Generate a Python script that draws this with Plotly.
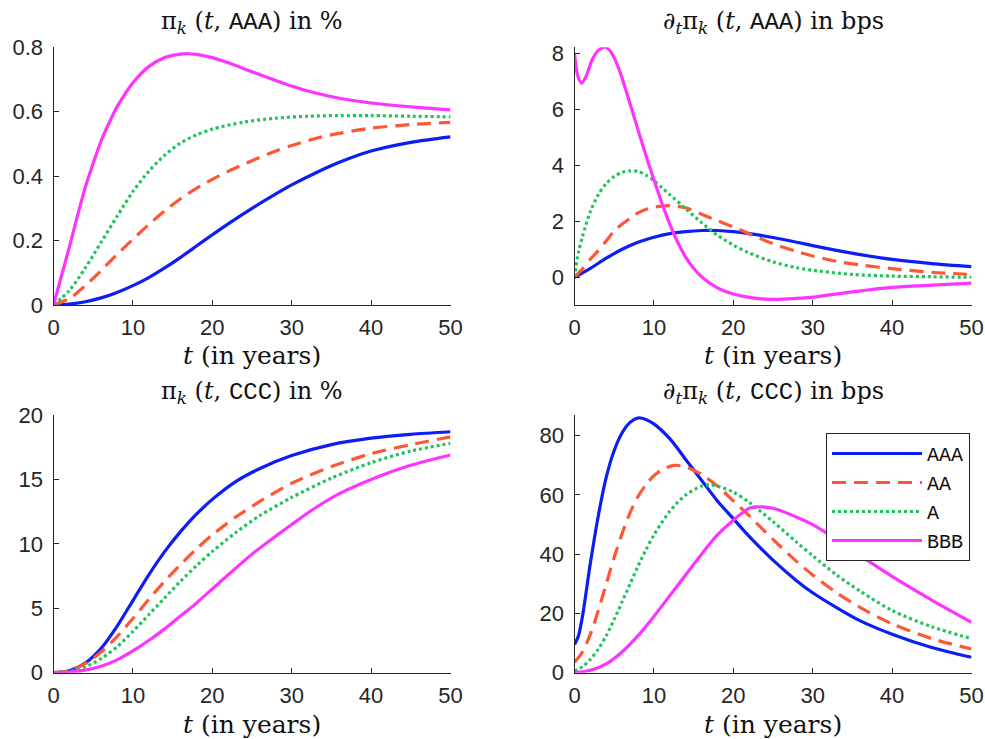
import plotly.graph_objects as go

# ---------------- data ----------------
series_names = ["AAA", "AA", "A", "BBB"]

# panel 1: pi_k(t, AAA) in %
p1_t_aaa = [0, 2, 4, 6, 8, 10, 12, 14, 16, 18, 20, 22, 25, 28, 30, 33, 36, 40, 45, 50]
p1_aaa = [0, 0.003, 0.01, 0.022, 0.039, 0.06, 0.085, 0.115, 0.148, 0.183, 0.218, 0.252, 0.3, 0.345, 0.373, 0.41, 0.443, 0.478, 0.505, 0.522]
p1_t_aa = [0, 2, 4, 6, 8, 10, 12, 14, 16, 18, 20, 22, 25, 28, 30, 33, 36, 40, 45, 50]
p1_aa = [0, 0.02, 0.06, 0.107, 0.157, 0.204, 0.25, 0.292, 0.33, 0.362, 0.39, 0.415, 0.448, 0.478, 0.495, 0.517, 0.533, 0.549, 0.56, 0.567]
p1_t_a = [0, 2, 4, 6, 8, 10, 12, 14, 16, 18, 20, 24, 28, 32, 36, 40, 45, 50]
p1_a = [0, 0.045, 0.115, 0.195, 0.275, 0.352, 0.415, 0.465, 0.503, 0.528, 0.546, 0.568, 0.58, 0.586, 0.588, 0.588, 0.586, 0.584]
p1_t_bbb = [0, 1, 2, 3, 4, 5, 6, 7, 8, 9, 10, 12, 14, 16, 17, 18, 20, 22, 25, 28, 30, 33, 36, 40, 45, 50]
p1_bbb = [0, 0.09, 0.18, 0.275, 0.365, 0.44, 0.51, 0.565, 0.615, 0.655, 0.69, 0.74, 0.768, 0.779, 0.78, 0.778, 0.768, 0.752, 0.724, 0.697, 0.68, 0.658, 0.642, 0.627, 0.615, 0.606]

# panel 2: d/dt pi_k(t, AAA) in bps
p2_t_aaa = [0, 2, 4, 6, 8, 10, 12, 14, 16, 18, 20, 22, 25, 28, 30, 33, 36, 40, 45, 50]
p2_aaa = [0, 0.32, 0.68, 1.0, 1.25, 1.43, 1.56, 1.63, 1.67, 1.67, 1.63, 1.56, 1.42, 1.25, 1.13, 0.96, 0.81, 0.64, 0.49, 0.38]
p2_t_aa = [0, 1, 2, 3, 4, 5, 6, 7, 8, 9, 10, 12, 14, 16, 18, 20, 22, 25, 28, 30, 33, 36, 40, 45, 50]
p2_aa = [0, 0.3, 0.65, 0.95, 1.3, 1.65, 1.9, 2.1, 2.3, 2.42, 2.5, 2.56, 2.48, 2.25, 2.02, 1.8, 1.55, 1.2, 0.92, 0.76, 0.57, 0.44, 0.31, 0.18, 0.1]
p2_t_a = [0, 0.5, 1, 2, 3, 4, 5, 6, 7, 8, 9, 10, 11, 12, 14, 16, 18, 20, 22, 25, 28, 30, 35, 40, 45, 50]
p2_a = [0, 0.9, 1.45, 2.35, 2.95, 3.35, 3.6, 3.75, 3.8, 3.78, 3.65, 3.45, 3.2, 2.95, 2.45, 1.95, 1.5, 1.15, 0.87, 0.55, 0.34, 0.25, 0.1, 0.04, 0.02, 0.0]
p2_t_bbb = [0, 0.4, 0.9, 1.5, 2.2, 3, 3.9, 4.8, 5.7, 6.5, 7.8, 9, 10, 11, 12, 13, 14, 15, 16, 18, 20, 22, 24.6, 27, 30, 35, 40, 45, 50]
p2_bbb = [8.0, 7.2, 6.93, 7.2, 7.75, 8.1, 8.21, 7.95, 7.35, 6.65, 5.45, 4.35, 3.48, 2.65, 1.9, 1.25, 0.72, 0.32, 0.02, -0.38, -0.6, -0.72, -0.79, -0.77, -0.71, -0.52, -0.36, -0.28, -0.21]

# panel 3: pi_k(t, CCC) in %
p3_t = [0, 2, 4, 6, 8, 10, 12, 14, 16, 18, 20, 23, 26, 30, 35, 40, 45, 50]
p3_aaa = [0, 0.15, 0.75, 1.9, 3.6, 5.6, 7.6, 9.4, 10.95, 12.3, 13.45, 14.85, 15.85, 16.85, 17.7, 18.2, 18.5, 18.7]
p3_aa = [0, 0.15, 0.7, 1.6, 2.8, 4.2, 5.7, 7.1, 8.4, 9.6, 10.7, 12.1, 13.3, 14.7, 16.0, 17.0, 17.7, 18.3]
p3_a = [0, 0.1, 0.45, 1.1, 2.0, 3.2, 4.5, 5.8, 7.1, 8.3, 9.4, 10.9, 12.2, 13.6, 15.1, 16.3, 17.2, 17.8]
p3_t_bbb = [0, 2, 4, 6, 8, 10, 12, 14, 16, 18, 20, 22, 25, 28, 30, 33, 36, 40, 45, 50]
p3_bbb = [0, 0.05, 0.2, 0.5, 1.0, 1.7, 2.5, 3.4, 4.4, 5.4, 6.5, 7.6, 9.2, 10.6, 11.5, 12.8, 13.9, 15.0, 16.1, 16.9]

# panel 4: d/dt pi_k(t, CCC) in bps
p4_t_aaa = [0, 0.5, 1, 2, 3, 4, 5, 6, 7, 8, 9, 10, 12, 14, 16, 18, 20, 22, 25, 28, 30, 33, 36, 40, 45, 50]
p4_aaa = [9.5, 12.5, 19, 37, 53, 66, 75, 81, 84.5, 86, 85.5, 84, 79, 72, 65, 58, 52, 46, 38, 31, 27, 22, 17.5, 13, 8.5, 5.2]
p4_t_aa = [0, 1, 2, 3, 4, 5, 6, 7, 8, 9, 10, 11, 12.5, 14, 16, 18, 20, 22, 25, 28, 30, 33, 36, 40, 45, 50]
p4_aa = [3.5, 7, 13, 21, 30, 39, 47, 54, 59.5, 63.5, 66.5, 68.5, 70, 69.5, 67, 63, 58, 53, 45, 37.5, 33, 27, 22, 16.5, 11.5, 8]
p4_t_a = [0, 1, 2, 3, 4, 5, 6, 7, 8, 9, 10, 12, 14, 16, 17, 18, 20, 22, 25, 28, 30, 33, 36, 40, 45, 50]
p4_a = [0.5, 2, 4.5, 8, 12.5, 18, 24, 30, 36, 41.5, 46.5, 54.5, 60, 63, 63.5, 63, 61, 57.5, 51, 44, 39.5, 33, 27.5, 21, 15.5, 11.5]
p4_t_bbb = [0, 2, 4, 6, 8, 10, 12, 14, 16, 18, 20, 22, 23, 25, 28, 30, 33, 36, 40, 45, 50]
p4_bbb = [0, 0.8, 3, 7, 12.5, 19, 26, 33, 40, 46.5, 51.5, 55.5, 56, 55.5, 52.5, 50, 45, 39.5, 32.5, 24.5, 17]

x_ticks = [0, 10, 20, 30, 40, 50]
p1_yticks = [0, 0.2, 0.4, 0.6, 0.8]
p2_yticks = [0, 2, 4, 6, 8]
p3_yticks = [0, 5, 10, 15, 20]
p4_yticks = [0, 20, 40, 60, 80]

# ---------------- style ----------------
colors = ["#0a1ef5", "#ff5733", "#1fc45a", "#ff33ff"]
dashes = ["solid", "14px,8px", "3px,3px", "solid"]
LW = 3.2
AX = "#262626"
SERIF = "DejaVu Serif"
MONO = "Liberation Mono"
SANS = "Liberation Sans"

W, H = 985, 739
def fx(px):
    return px / W
def fy(py):
    return 1 - py / H

panels = [
    (1, [(p1_t_aaa, p1_aaa), (p1_t_aa, p1_aa), (p1_t_a, p1_a), (p1_t_bbb, p1_bbb)]),
    (2, [(p2_t_aaa, p2_aaa), (p2_t_aa, p2_aa), (p2_t_a, p2_a), (p2_t_bbb, p2_bbb)]),
    (3, [(p3_t, p3_aaa), (p3_t, p3_aa), (p3_t, p3_a), (p3_t_bbb, p3_bbb)]),
    (4, [(p4_t_aaa, p4_aaa), (p4_t_aa, p4_aa), (p4_t_a, p4_a), (p4_t_bbb, p4_bbb)]),
]

fig = go.Figure()
for idx, data in panels:
    xa = "x" if idx == 1 else f"x{idx}"
    ya = "y" if idx == 1 else f"y{idx}"
    for k, (tt, vv) in enumerate(data):
        fig.add_trace(go.Scatter(
            x=tt, y=vv, mode="lines", xaxis=xa, yaxis=ya,
            name=series_names[k],
            line=dict(color=colors[k], width=LW, dash=dashes[k], shape="spline", smoothing=0.8),
            showlegend=(idx == 4),
        ))

L = [53.5, 450.5]
R = [574.5, 971.5]
T = [47.3, 305]
B = [415, 672.7]

def xaxis(dom, anchor):
    return dict(domain=[fx(dom[0]), fx(dom[1])], range=[0, 50], tickvals=x_ticks,
                anchor=anchor, showline=True, linecolor=AX, linewidth=1, automargin=False,
                ticks="inside", ticklen=5, tickcolor=AX, showgrid=False, zeroline=False,
                tickfont=dict(family=SANS, size=22, color=AX), ticklabelstandoff=3)

def yaxis(dom, anchor, rng, ticks):
    return dict(domain=[fy(dom[1]), fy(dom[0])], range=rng, tickvals=ticks,
                anchor=anchor, showline=True, linecolor=AX, linewidth=1, automargin=False,
                ticks="inside", ticklen=5, tickcolor=AX, showgrid=False, zeroline=False,
                tickfont=dict(family=SANS, size=22, color=AX), ticklabelstandoff=5)

fig.update_layout(
    width=W, height=H, margin=dict(l=0, r=0, t=0, b=0, autoexpand=False),
    paper_bgcolor="white", plot_bgcolor="white",
    xaxis=xaxis(L, "y"), yaxis=yaxis(T, "x", [0, 0.8], p1_yticks),
    xaxis2=xaxis(R, "y2"), yaxis2=yaxis(T, "x2", [-0.99, 8.21], p2_yticks),
    xaxis3=xaxis(L, "y3"), yaxis3=yaxis(B, "x3", [0, 20], p3_yticks),
    xaxis4=xaxis(R, "y4"), yaxis4=yaxis(B, "x4", [0, 87], p4_yticks),
    legend=dict(x=fx(826), y=fy(433), xanchor="left", yanchor="top",
                bgcolor="white", bordercolor="#262626", borderwidth=1,
                font=dict(family=MONO, size=20, color="#111"),
                itemwidth=90, tracegroupgap=0),
    showlegend=True,
)

mono = lambda s: f"<span style=\"font-family:'Liberation Mono'\">{s}</span>"
titles = [
    ("π<sub><i>k</i></sub> (<i>t</i>, " + mono("AAA") + ") in %", (L[0] + L[1]) / 2, 22),
    ("∂<sub><i>t</i></sub>π<sub><i>k</i></sub> (<i>t</i>, " + mono("AAA") + ") in bps", (R[0] + R[1]) / 2, 22),
    ("π<sub><i>k</i></sub> (<i>t</i>, " + mono("CCC") + ") in %", (L[0] + L[1]) / 2, 392),
    ("∂<sub><i>t</i></sub>π<sub><i>k</i></sub> (<i>t</i>, " + mono("CCC") + ") in bps", (R[0] + R[1]) / 2, 392),
]
for txt, cx, cy in titles:
    fig.add_annotation(text=txt, x=fx(cx), y=fy(cy), xref="paper", yref="paper",
                       showarrow=False, xanchor="center", yanchor="middle",
                       font=dict(family=SERIF, size=24, color="#111"))
for cx, cy in [((L[0] + L[1]) / 2, 355), ((R[0] + R[1]) / 2, 355),
               ((L[0] + L[1]) / 2, 724), ((R[0] + R[1]) / 2, 724)]:
    fig.add_annotation(text="<i>t</i> (in years)", x=fx(cx), y=fy(cy), xref="paper", yref="paper",
                       showarrow=False, xanchor="center", yanchor="middle",
                       font=dict(family=SERIF, size=25, color="#111"))

fig.write_html("out.html", config={"displayModeBar": False},
               post_script="document.body.style.margin='0px';")
